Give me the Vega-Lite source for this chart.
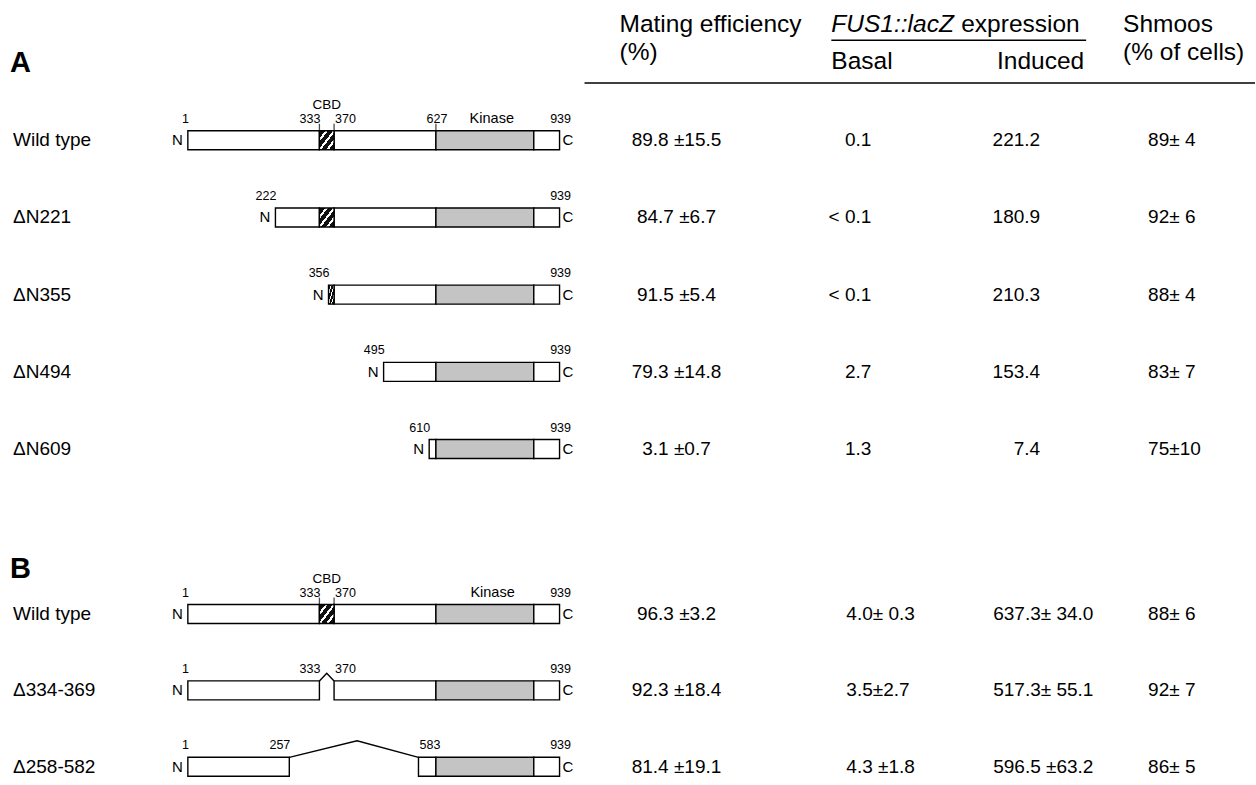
{
  "$schema": "https://vega.github.io/schema/vega-lite/v6.json",
  "width": 1256,
  "height": 785,
  "autosize": {"type": "fit", "contains": "padding"},
  "padding": 0,
  "background": "white",
  "config": {
    "view": {"stroke": null},
    "axis": {"disable": true},
    "font": "Liberation Sans",
    "text": {"font": "Liberation Sans", "fill": "black"}
  },
  "datasets": {
    "table": [
      {"panel": "A", "row": 1, "name": "Wild type", "mating": "89.8 ±15.5", "basal": "0.1", "induced": "221.2", "shmoos": "89± 4"},
      {"panel": "A", "row": 2, "name": "ΔN221", "mating": "84.7 ±6.7", "basal": "< 0.1", "induced": "180.9", "shmoos": "92± 6"},
      {"panel": "A", "row": 3, "name": "ΔN355", "mating": "91.5 ±5.4", "basal": "< 0.1", "induced": "210.3", "shmoos": "88± 4"},
      {"panel": "A", "row": 4, "name": "ΔN494", "mating": "79.3 ±14.8", "basal": "2.7", "induced": "153.4", "shmoos": "83± 7"},
      {"panel": "A", "row": 5, "name": "ΔN609", "mating": "3.1 ±0.7", "basal": "1.3", "induced": "7.4", "shmoos": "75±10"},
      {"panel": "B", "row": 7, "name": "Wild type", "mating": "96.3 ±3.2", "basal": "4.0± 0.3", "induced": "637.3± 34.0", "shmoos": "88± 6"},
      {"panel": "B", "row": 8, "name": "Δ334-369", "mating": "92.3 ±18.4", "basal": "3.5±2.7", "induced": "517.3± 55.1", "shmoos": "92± 7"},
      {"panel": "B", "row": 9, "name": "Δ258-582", "mating": "81.4 ±19.1", "basal": "4.3 ±1.8", "induced": "596.5 ±63.2", "shmoos": "86± 5"}
    ],
    "constructs": [
      {"row": 1, "name": "Wild type", "start": 1, "end": 939},
      {"row": 2, "name": "ΔN221", "start": 222, "end": 939},
      {"row": 3, "name": "ΔN355", "start": 356, "end": 939},
      {"row": 4, "name": "ΔN494", "start": 495, "end": 939},
      {"row": 5, "name": "ΔN609", "start": 610, "end": 939},
      {"row": 7, "name": "Wild type", "start": 1, "end": 939},
      {"row": 8, "name": "Δ334-369", "start": 1, "end": 939},
      {"row": 9, "name": "Δ258-582", "start": 1, "end": 939}
    ],
    "segments": [
      {"row": 1, "from": 1, "to": 333, "domain": "none"},
      {"row": 1, "from": 333, "to": 370, "domain": "CBD"},
      {"row": 1, "from": 370, "to": 627, "domain": "none"},
      {"row": 1, "from": 627, "to": 874, "domain": "kinase"},
      {"row": 1, "from": 874, "to": 939, "domain": "none"},
      {"row": 2, "from": 222, "to": 333, "domain": "none"},
      {"row": 2, "from": 333, "to": 370, "domain": "CBD"},
      {"row": 2, "from": 370, "to": 627, "domain": "none"},
      {"row": 2, "from": 627, "to": 874, "domain": "kinase"},
      {"row": 2, "from": 874, "to": 939, "domain": "none"},
      {"row": 3, "from": 356, "to": 370, "domain": "CBD"},
      {"row": 3, "from": 370, "to": 627, "domain": "none"},
      {"row": 3, "from": 627, "to": 874, "domain": "kinase"},
      {"row": 3, "from": 874, "to": 939, "domain": "none"},
      {"row": 4, "from": 495, "to": 627, "domain": "none"},
      {"row": 4, "from": 627, "to": 874, "domain": "kinase"},
      {"row": 4, "from": 874, "to": 939, "domain": "none"},
      {"row": 5, "from": 610, "to": 627, "domain": "none"},
      {"row": 5, "from": 627, "to": 874, "domain": "kinase"},
      {"row": 5, "from": 874, "to": 939, "domain": "none"},
      {"row": 7, "from": 1, "to": 333, "domain": "none"},
      {"row": 7, "from": 333, "to": 370, "domain": "CBD"},
      {"row": 7, "from": 370, "to": 627, "domain": "none"},
      {"row": 7, "from": 627, "to": 874, "domain": "kinase"},
      {"row": 7, "from": 874, "to": 939, "domain": "none"},
      {"row": 8, "from": 1, "to": 333, "domain": "none"},
      {"row": 8, "from": 370, "to": 627, "domain": "none"},
      {"row": 8, "from": 627, "to": 874, "domain": "kinase"},
      {"row": 8, "from": 874, "to": 939, "domain": "none"},
      {"row": 9, "from": 1, "to": 257, "domain": "none"},
      {"row": 9, "from": 583, "to": 627, "domain": "none"},
      {"row": 9, "from": 627, "to": 874, "domain": "kinase"},
      {"row": 9, "from": 874, "to": 939, "domain": "none"}
    ],
    "residues": [
      {"row": 1, "pos": 1, "label": "1", "kind": "first residue"},
      {"row": 1, "pos": 333, "label": "333", "kind": "CBD start"},
      {"row": 1, "pos": 370, "label": "370", "kind": "CBD end"},
      {"row": 1, "pos": 627, "label": "627", "kind": "kinase start"},
      {"row": 1, "pos": 939, "label": "939", "kind": "last residue"},
      {"row": 2, "pos": 222, "label": "222", "kind": "first residue"},
      {"row": 2, "pos": 939, "label": "939", "kind": "last residue"},
      {"row": 3, "pos": 356, "label": "356", "kind": "first residue"},
      {"row": 3, "pos": 939, "label": "939", "kind": "last residue"},
      {"row": 4, "pos": 495, "label": "495", "kind": "first residue"},
      {"row": 4, "pos": 939, "label": "939", "kind": "last residue"},
      {"row": 5, "pos": 610, "label": "610", "kind": "first residue"},
      {"row": 5, "pos": 939, "label": "939", "kind": "last residue"},
      {"row": 7, "pos": 1, "label": "1", "kind": "first residue"},
      {"row": 7, "pos": 333, "label": "333", "kind": "CBD start"},
      {"row": 7, "pos": 370, "label": "370", "kind": "CBD end"},
      {"row": 7, "pos": 939, "label": "939", "kind": "last residue"},
      {"row": 8, "pos": 1, "label": "1", "kind": "first residue"},
      {"row": 8, "pos": 333, "label": "333", "kind": "junction left"},
      {"row": 8, "pos": 370, "label": "370", "kind": "junction right"},
      {"row": 8, "pos": 939, "label": "939", "kind": "last residue"},
      {"row": 9, "pos": 1, "label": "1", "kind": "first residue"},
      {"row": 9, "pos": 257, "label": "257", "kind": "junction left"},
      {"row": 9, "pos": 583, "label": "583", "kind": "junction right"},
      {"row": 9, "pos": 939, "label": "939", "kind": "last residue"}
    ],
    "ticks": [
      {"row": 1, "pos": 333},
      {"row": 1, "pos": 370},
      {"row": 1, "pos": 627},
      {"row": 7, "pos": 333},
      {"row": 7, "pos": 370}
    ],
    "domainLabels": [
      {"row": 1, "pos": 351.5, "label": "CBD"},
      {"row": 1, "pos": 768, "label": "Kinase"},
      {"row": 7, "pos": 351.5, "label": "CBD"},
      {"row": 7, "pos": 770, "label": "Kinase"}
    ],
    "junctions": [
      {"construct": "Δ334-369", "pos": 333, "y": 7.878},
      {"construct": "Δ334-369", "pos": 351.5, "y": 7.776},
      {"construct": "Δ334-369", "pos": 370, "y": 7.878},
      {"construct": "Δ258-582", "pos": 257, "y": 8.878},
      {"construct": "Δ258-582", "pos": 428, "y": 8.66},
      {"construct": "Δ258-582", "pos": 583, "y": 8.878}
    ]
  },
  "layer": [
    {
      "layer": [
        {
          "data": {"name": "segments"},
          "transform": [{"filter": "datum.domain !== 'CBD'"}],
          "mark": {"type": "bar", "orient": "horizontal", "size": 19, "stroke": "black", "strokeWidth": 1.4},
          "encoding": {
            "x": {"field": "from", "type": "quantitative", "scale": {"domain": [-473.04, 2693.97], "nice": false, "zero": false}, "axis": null},
            "x2": {"field": "to"},
            "y": {"field": "row", "type": "quantitative", "scale": {"domain": [-1, 5, 7, 10], "range": [-19, 449, 614, 848], "nice": false, "zero": false}, "axis": null},
            "fill": {"field": "domain", "type": "nominal", "scale": {"domain": ["none", "kinase"], "range": ["#ffffff", "#c4c4c4"]}, "legend": null}
          }
        },
        {
          "data": {"name": "segments"},
          "transform": [{"filter": "datum.domain === 'CBD'"}],
          "mark": {
            "type": "bar", "orient": "horizontal", "size": 19, "stroke": "black", "strokeWidth": 1.4,
            "fill": {
              "gradient": "linear", "x1": 0, "y1": 0, "x2": 1, "y2": 1,
              "stops": [
                {"offset": 0, "color": "#111111"}, {"offset": 0.2, "color": "#111111"},
                {"offset": 0.2, "color": "#ffffff"}, {"offset": 0.29, "color": "#ffffff"},
                {"offset": 0.29, "color": "#111111"}, {"offset": 0.46, "color": "#111111"},
                {"offset": 0.46, "color": "#ffffff"}, {"offset": 0.55, "color": "#ffffff"},
                {"offset": 0.55, "color": "#111111"}, {"offset": 0.72, "color": "#111111"},
                {"offset": 0.72, "color": "#ffffff"}, {"offset": 0.81, "color": "#ffffff"},
                {"offset": 0.81, "color": "#111111"}, {"offset": 1, "color": "#111111"}
              ]
            }
          },
          "encoding": {
            "x": {"field": "from", "type": "quantitative", "axis": null},
            "x2": {"field": "to"},
            "y": {"field": "row", "type": "quantitative", "axis": null}
          }
        },
        {
          "data": {"name": "ticks"},
          "mark": {"type": "tick", "orient": "vertical", "size": 7, "thickness": 1.3, "color": "black", "yOffset": -13},
          "encoding": {
            "x": {"field": "pos", "type": "quantitative", "axis": null},
            "y": {"field": "row", "type": "quantitative", "axis": null}
          }
        },
        {
          "data": {"name": "junctions"},
          "mark": {"type": "line", "color": "black", "strokeWidth": 1.4},
          "encoding": {
            "x": {"field": "pos", "type": "quantitative", "axis": null},
            "y": {"field": "y", "type": "quantitative", "axis": null},
            "detail": {"field": "construct"}
          }
        },
        {
          "data": {"name": "residues"},
          "transform": [{"filter": {"field": "kind", "oneOf": ["first residue", "CBD start", "junction left"]}}],
          "mark": {"type": "text", "align": "right", "baseline": "alphabetic", "dx": 1, "dy": -17.5, "fontSize": 12.5},
          "encoding": {
            "x": {"field": "pos", "type": "quantitative", "axis": null},
            "y": {"field": "row", "type": "quantitative", "axis": null},
            "text": {"field": "label"}
          }
        },
        {
          "data": {"name": "residues"},
          "transform": [{"filter": {"field": "kind", "oneOf": ["CBD end", "junction right"]}}],
          "mark": {"type": "text", "align": "left", "baseline": "alphabetic", "dx": 1, "dy": -17.5, "fontSize": 12.5},
          "encoding": {
            "x": {"field": "pos", "type": "quantitative", "axis": null},
            "y": {"field": "row", "type": "quantitative", "axis": null},
            "text": {"field": "label"}
          }
        },
        {
          "data": {"name": "residues"},
          "transform": [{"filter": {"field": "kind", "oneOf": ["kinase start", "last residue"]}}],
          "mark": {"type": "text", "align": "center", "baseline": "alphabetic", "dx": 1, "dy": -17.5, "fontSize": 12.5},
          "encoding": {
            "x": {"field": "pos", "type": "quantitative", "axis": null},
            "y": {"field": "row", "type": "quantitative", "axis": null},
            "text": {"field": "label"}
          }
        },
        {
          "data": {"name": "domainLabels"},
          "transform": [{"filter": "datum.label === 'CBD'"}],
          "mark": {"type": "text", "align": "center", "baseline": "alphabetic", "dy": -31.5, "fontSize": 13.5},
          "encoding": {
            "x": {"field": "pos", "type": "quantitative", "axis": null},
            "y": {"field": "row", "type": "quantitative", "axis": null},
            "text": {"field": "label"}
          }
        },
        {
          "data": {"name": "domainLabels"},
          "transform": [{"filter": "datum.label === 'Kinase'"}],
          "mark": {"type": "text", "align": "center", "baseline": "alphabetic", "dy": -17.5, "fontSize": 14.5},
          "encoding": {
            "x": {"field": "pos", "type": "quantitative", "axis": null},
            "y": {"field": "row", "type": "quantitative", "axis": null},
            "text": {"field": "label"}
          }
        },
        {
          "data": {"name": "constructs"},
          "mark": {"type": "text", "align": "right", "baseline": "middle", "dx": -5, "fontSize": 15, "text": "N"},
          "encoding": {
            "x": {"field": "start", "type": "quantitative", "axis": null},
            "y": {"field": "row", "type": "quantitative", "axis": null}
          }
        },
        {
          "data": {"name": "constructs"},
          "mark": {"type": "text", "align": "left", "baseline": "middle", "dx": 3, "fontSize": 15, "text": "C"},
          "encoding": {
            "x": {"field": "end", "type": "quantitative", "axis": null},
            "y": {"field": "row", "type": "quantitative", "axis": null}
          }
        }
      ]
    },
    {
      "layer": [
        {
          "data": {"name": "table"},
          "mark": {"type": "text", "align": "left", "baseline": "middle", "fontSize": 19},
          "encoding": {
            "x": {"datum": 13, "type": "quantitative", "scale": {"domain": [0, 1256], "nice": false, "zero": false}, "axis": null},
            "y": {"field": "row", "type": "quantitative", "axis": null},
            "text": {"field": "name"}
          }
        },
        {
          "data": {"name": "table"},
          "mark": {"type": "text", "align": "center", "baseline": "middle", "fontSize": 19},
          "encoding": {
            "x": {"datum": 677, "type": "quantitative"},
            "y": {"field": "row", "type": "quantitative"},
            "text": {"field": "mating"}
          }
        },
        {
          "data": {"name": "table"},
          "transform": [{"filter": "datum.panel === 'A'"}],
          "mark": {"type": "text", "align": "right", "baseline": "middle", "fontSize": 19},
          "encoding": {
            "x": {"datum": 872, "type": "quantitative"},
            "y": {"field": "row", "type": "quantitative"},
            "text": {"field": "basal"}
          }
        },
        {
          "data": {"name": "table"},
          "transform": [{"filter": "datum.panel === 'B'"}],
          "mark": {"type": "text", "align": "left", "baseline": "middle", "fontSize": 19},
          "encoding": {
            "x": {"datum": 847, "type": "quantitative"},
            "y": {"field": "row", "type": "quantitative"},
            "text": {"field": "basal"}
          }
        },
        {
          "data": {"name": "table"},
          "transform": [{"filter": "datum.panel === 'A'"}],
          "mark": {"type": "text", "align": "right", "baseline": "middle", "fontSize": 19},
          "encoding": {
            "x": {"datum": 1041, "type": "quantitative"},
            "y": {"field": "row", "type": "quantitative"},
            "text": {"field": "induced"}
          }
        },
        {
          "data": {"name": "table"},
          "transform": [{"filter": "datum.panel === 'B'"}],
          "mark": {"type": "text", "align": "left", "baseline": "middle", "fontSize": 19},
          "encoding": {
            "x": {"datum": 994, "type": "quantitative"},
            "y": {"field": "row", "type": "quantitative"},
            "text": {"field": "induced"}
          }
        },
        {
          "data": {"name": "table"},
          "mark": {"type": "text", "align": "left", "baseline": "middle", "fontSize": 19},
          "encoding": {
            "x": {"datum": 1149, "type": "quantitative"},
            "y": {"field": "row", "type": "quantitative"},
            "text": {"field": "shmoos"}
          }
        },
        {
          "data": {"values": [{}]},
          "mark": {"type": "text", "align": "left", "baseline": "alphabetic", "fontSize": 24.5, "text": "Mating efficiency"},
          "encoding": {"x": {"datum": 620, "type": "quantitative"}, "y": {"datum": -0.397, "type": "quantitative"}}
        },
        {
          "data": {"values": [{}]},
          "mark": {"type": "text", "align": "left", "baseline": "alphabetic", "fontSize": 24.5, "text": "(%)"},
          "encoding": {"x": {"datum": 620, "type": "quantitative"}, "y": {"datum": -0.038, "type": "quantitative"}}
        },
        {
          "data": {"values": [{}]},
          "mark": {"type": "text", "align": "left", "baseline": "alphabetic", "fontSize": 24.5, "fontStyle": "italic", "text": "FUS1::lacZ"},
          "encoding": {"x": {"datum": 832, "type": "quantitative"}, "y": {"datum": -0.397, "type": "quantitative"}}
        },
        {
          "data": {"values": [{}]},
          "mark": {"type": "text", "align": "left", "baseline": "alphabetic", "fontSize": 24.5, "text": "expression"},
          "encoding": {"x": {"datum": 962, "type": "quantitative"}, "y": {"datum": -0.397, "type": "quantitative"}}
        },
        {
          "data": {"values": [{}]},
          "mark": {"type": "rule", "color": "black", "strokeWidth": 1.5},
          "encoding": {"x": {"datum": 832, "type": "quantitative"}, "x2": {"datum": 1087}, "y": {"datum": -0.295, "type": "quantitative"}}
        },
        {
          "data": {"values": [{}]},
          "mark": {"type": "text", "align": "left", "baseline": "alphabetic", "fontSize": 24.5, "text": "Basal"},
          "encoding": {"x": {"datum": 832, "type": "quantitative"}, "y": {"datum": 0.077, "type": "quantitative"}}
        },
        {
          "data": {"values": [{}]},
          "mark": {"type": "text", "align": "right", "baseline": "alphabetic", "fontSize": 24.5, "text": "Induced"},
          "encoding": {"x": {"datum": 1085, "type": "quantitative"}, "y": {"datum": 0.077, "type": "quantitative"}}
        },
        {
          "data": {"values": [{}]},
          "mark": {"type": "text", "align": "left", "baseline": "alphabetic", "fontSize": 24.5, "text": "Shmoos"},
          "encoding": {"x": {"datum": 1124, "type": "quantitative"}, "y": {"datum": -0.397, "type": "quantitative"}}
        },
        {
          "data": {"values": [{}]},
          "mark": {"type": "text", "align": "left", "baseline": "alphabetic", "fontSize": 24.5, "text": "(% of cells)"},
          "encoding": {"x": {"datum": 1124, "type": "quantitative"}, "y": {"datum": -0.038, "type": "quantitative"}}
        },
        {
          "data": {"values": [{}]},
          "mark": {"type": "rule", "color": "black", "strokeWidth": 1.5},
          "encoding": {"x": {"datum": 585, "type": "quantitative"}, "x2": {"datum": 1256}, "y": {"datum": 0.256, "type": "quantitative"}}
        },
        {
          "data": {"values": [{}]},
          "mark": {"type": "text", "align": "left", "baseline": "middle", "fontSize": 29, "fontWeight": "bold", "text": "A"},
          "encoding": {"x": {"datum": 10, "type": "quantitative"}, "y": {"datum": 0.0, "type": "quantitative"}}
        },
        {
          "data": {"values": [{}]},
          "mark": {"type": "text", "align": "left", "baseline": "middle", "fontSize": 29, "fontWeight": "bold", "text": "B"},
          "encoding": {"x": {"datum": 10, "type": "quantitative"}, "y": {"datum": 6.449, "type": "quantitative"}}
        }
      ]
    }
  ],
  "resolve": {"scale": {"x": "independent"}}
}
